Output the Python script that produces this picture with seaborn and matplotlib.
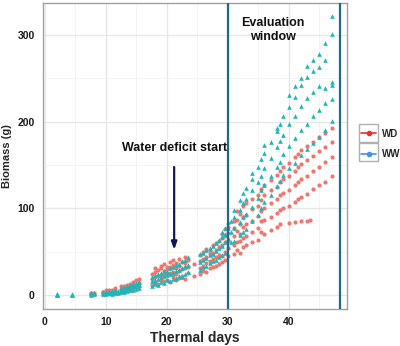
import matplotlib
matplotlib.use("Agg")
import matplotlib.pyplot as plt
from matplotlib.lines import Line2D
from matplotlib.patches import Rectangle
import seaborn as sns
import pandas as pd

# ---------------- data ----------------
wd_days = [7.5, 8.0, 9.5, 10.0, 10.5, 11.0, 11.5, 12.5, 13.0, 13.5, 14.0, 14.5, 15.0, 15.5,
           17.5, 18.0, 18.5, 19.0, 19.5, 20.0, 20.5, 21.0, 21.5, 22.0, 22.5, 23.0, 23.5, 24.5,
           25.5, 26.0, 26.5, 27.0, 27.5, 28.0, 28.5, 29.0, 29.5, 30.0, 31.0, 31.5, 32.0, 32.5,
           33.0, 34.0, 35.0, 35.5, 36.0, 37.0, 38.0, 38.5, 39.0, 40.0, 41.0, 41.5, 42.0, 43.0,
           43.4, 44.0, 45.0, 46.0, 47.0]
wd_values = [
    [1, 2.5, 3], [1, 2], [2, 3.5, 4], [2, 4, 6], [3, 4.5, 6], [2.5, 5, 6], [4, 5.5, 8],
    [4, 7, 10], [5, 8.5, 11], [6, 9, 12], [6, 11, 13], [8, 11, 15], [9, 12, 17], [10, 14, 19],
    [12, 19, 24], [14, 21, 27, 31], [13, 22, 29], [17, 23, 31, 34], [16, 23, 28, 36],
    [18, 25, 30, 33], [15, 26, 32, 38], [21, 27, 35, 40], [18, 24, 31, 37], [20, 28, 34, 42],
    [22, 30, 38], [19, 31, 37, 44], [25, 33, 41], [22, 36],
    [24, 31, 39, 46], [28, 34, 42, 50], [27, 37, 44, 53], [31, 39, 47, 51], [32, 42, 49, 58],
    [34, 44, 52, 60], [36, 46, 55, 63], [38, 45, 58, 66, 71], [40, 50, 61, 68, 76],
    [45, 54, 63, 72, 79], [47, 58, 68, 77, 86], [52, 61, 74, 87, 97], [49, 63, 71, 82, 94],
    [55, 66, 79, 90, 103], [58, 68, 82, 93, 106], [61, 73, 86, 99, 111], [64, 77, 91, 103, 116],
    [73, 85, 97, 110, 123], [71, 87, 101, 116, 127], [75, 90, 106, 121, 133],
    [79, 95, 111, 125, 139], [82, 98, 115, 131, 143], [101, 118, 134, 148],
    [83, 103, 121, 138, 153], [84, 107, 127, 143, 159], [111, 131, 148, 163],
    [85, 113, 134, 151, 168], [86, 117, 138, 156, 172], [87],
    [122, 143, 161, 177], [127, 148, 166, 182], [131, 154, 171, 187], [138, 159, 177, 193],
]

ww_days = [2.0, 4.5, 7.5, 8.0, 9.5, 10.0, 10.5, 11.0, 11.5, 12.0, 12.5, 13.0, 13.5, 14.0,
           14.5, 15.0, 15.5, 17.5, 18.0, 18.5, 19.0, 19.5, 20.0, 20.5, 21.0, 21.5, 22.0, 22.5,
           23.0, 23.5, 25.5, 26.0, 26.5, 27.0, 27.5, 28.0, 28.5, 29.0, 29.5, 30.0, 30.5, 31.0,
           32.0, 32.5, 33.0, 34.0, 35.0, 35.5, 36.0, 37.0, 38.0, 38.5, 39.0, 40.0, 41.0, 42.0,
           43.0, 44.0, 45.0, 46.0, 47.0]
ww_values = [
    [0, 0.5, 1, 1.5], [0, 0.5, 1], [0.5, 1.5, 2], [1, 2, 2.5], [1, 2, 3.5], [1.5, 3, 4],
    [2, 3, 5], [1.5, 4, 5], [3, 4.5, 6], [3, 5], [4, 6, 8], [3.5, 7, 9], [5, 8, 10.5], [6, 9, 12],
    [6, 10, 13], [7, 11, 14], [8, 12, 15], [11, 16, 21], [13, 17, 23], [12, 19, 24],
    [15, 21, 26], [14, 22, 28], [17, 23, 27], [16, 24, 31], [19, 25, 33], [20, 28, 35],
    [22, 29, 36], [21, 31, 39], [24, 34, 41], [27, 35, 44], [29, 38, 47], [32, 41, 49],
    [34, 43, 52], [37, 46, 54], [39, 48, 57], [41, 51, 60], [44, 54, 64], [46, 57, 67, 73],
    [49, 61, 71, 78], [56, 66, 77, 84], [61, 73, 86], [63, 77, 90, 98], [69, 84, 98, 110],
    [73, 90, 106, 118], [76, 94, 111, 124], [86, 102, 121, 134, 141], [93, 112, 131, 148],
    [101, 121, 138, 157], [107, 127, 147, 164, 173], [116, 138, 158, 177],
    [126, 148, 171, 189, 193], [132, 154, 178, 197], [139, 163, 185, 207],
    [147, 172, 198, 217, 231], [153, 181, 207, 229, 241], [162, 190, 218, 242, 251],
    [169, 198, 227, 252, 264], [176, 207, 234, 259, 271], [183, 214, 241, 263, 278],
    [191, 222, 239, 271, 291], [201, 226, 242, 246, 301, 322],
]

x_ticks = [0, 10, 20, 30, 40]
y_ticks = [0, 100, 200, 300]
window_lines = [30, 48.4]
deficit_day = 21.2
series_names = ["WD", "WW"]

# ---------------- build table ----------------
rows = []
for d, vals in zip(wd_days, wd_values):
    for v in vals:
        rows.append({"day": d, "biomass": v, "trt": "WD"})
for d, vals in zip(ww_days, ww_values):
    for v in vals:
        rows.append({"day": d, "biomass": v, "trt": "WW"})
df = pd.DataFrame(rows)

# ---------------- style ----------------
sns.set_style("whitegrid")
plt.rcParams["font.family"] = ["Liberation Sans", "DejaVu Sans"]
plt.rcParams["font.weight"] = "bold"

fig = plt.figure(figsize=(4.0, 3.46), dpi=100)
ax = fig.add_axes([0.1075, 0.107, 0.7595, 0.884])

pt_col = {"WD": "#F0766D", "WW": "#1BB6B9"}
sns.scatterplot(data=df[df.trt == "WD"], x="day", y="biomass", ax=ax, color=pt_col["WD"],
                marker="o", s=9, linewidth=0, legend=False, zorder=3)
sns.scatterplot(data=df[df.trt == "WW"], x="day", y="biomass", ax=ax, color=pt_col["WW"],
                marker="^", s=11, linewidth=0, legend=False, zorder=4)

ax.set_xlim(-0.3, 49.5)
ax.set_ylim(-16, 337)
ax.set_xticks(x_ticks)
ax.set_yticks(y_ticks)
ax.set_xticks([5, 15, 25, 35, 45], minor=True)
ax.set_yticks([50, 150, 250], minor=True)
ax.grid(which="major", color="#e6e6e6", linewidth=0.9)
ax.grid(which="minor", color="#f2f2f2", linewidth=0.6)
for s in ax.spines.values():
    s.set_color("#a0a0a0")
    s.set_linewidth(1.0)
ax.tick_params(axis="both", which="major", length=3, color="#909090", labelsize=7.5,
               labelcolor="#1a1a1a", pad=3, width=0.8)
ax.tick_params(axis="both", which="minor", length=0)
for lab in ax.get_xticklabels() + ax.get_yticklabels():
    lab.set_fontweight("bold")
ax.set_xlabel("Thermal days", fontsize=10, fontweight="bold", labelpad=3)
ax.set_ylabel("Biomass (g)", fontsize=8, fontweight="bold", labelpad=4)

for xv in window_lines:
    ax.axvline(xv, color="#1f6990", linewidth=1.6, zorder=5)

ax.annotate("", xy=(deficit_day, 49), xytext=(deficit_day, 151),
            arrowprops=dict(arrowstyle="-|>,head_length=0.45,head_width=0.16",
                            color="#141466", lw=1.6), zorder=6)
ax.text(deficit_day + 0.1, 170, "Water deficit start", ha="center", va="center",
        fontsize=9, fontweight="bold", color="#111111")
ax.text(37.4, 306, "Evaluation\nwindow", ha="center", va="center", fontsize=9,
        fontweight="bold", color="#111111", linespacing=1.15)

# ---------------- legend ----------------
leg_col = {"WD": "#EE2A2A", "WW": "#4A90E0"}
handles = [Line2D([0], [0], color=leg_col[n], marker="o", markersize=3, lw=1.2) for n in series_names]
leg = fig.legend(handles, series_names, loc="upper left", bbox_to_anchor=(357 / 400, 1 - 125 / 346),
                 frameon=False, fontsize=7, handlelength=1.6, handletextpad=0.55,
                 labelspacing=1.05, borderaxespad=0)
for t in leg.get_texts():
    t.set_fontweight("bold")
for i in range(2):
    y0 = 124 + i * 19
    fig.patches.append(Rectangle((359 / 400, 1 - (y0 + 18) / 346), 19 / 400, 18 / 346,
                                 transform=fig.transFigure, fill=False,
                                 edgecolor="#b0b0b0", linewidth=1.0))

fig.savefig("out.png", dpi=100)
